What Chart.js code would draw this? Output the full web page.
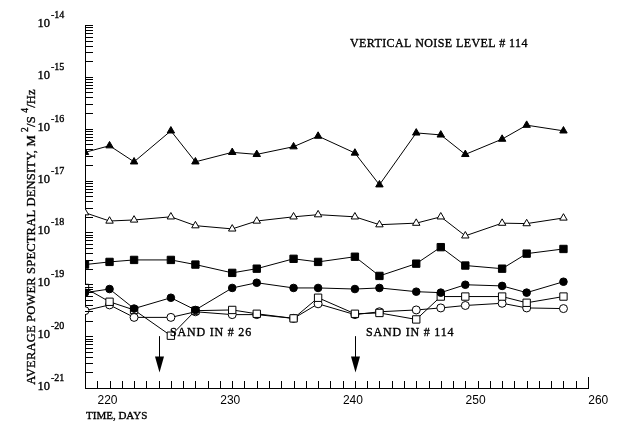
<!DOCTYPE html>
<html>
<head>
<meta charset="utf-8">
<script src="https://cdn.jsdelivr.net/npm/chart.js@4/dist/chart.umd.min.js"></script>
<style>
  html, body { margin: 0; padding: 0; background: #fff; }
  canvas { display: block; }
</style>
</head>
<body>
<canvas id="chart" width="622" height="431"></canvas>
<script>
// Sampling days
const days = [218, 220, 222, 225, 227, 230, 232, 235, 237, 240, 242, 245, 247, 249, 252, 254, 257];

// Average power spectral density per series, M^2/S^4/Hz
const solidTriangle = [3.5e-17, 4.7e-17, 2.3e-17, 9.1e-17, 2.3e-17, 3.5e-17, 3.2e-17, 4.5e-17, 7.2e-17, 3.4e-17, 8.3e-18, 8.3e-17, 7.6e-17, 3.2e-17, 6.3e-17, 1.17e-16, 9.1e-17];
const openTriangle  = [2.4e-18, 1.66e-18, 1.74e-18, 2.0e-18, 1.35e-18, 1.17e-18, 1.66e-18, 2.0e-18, 2.2e-18, 2.0e-18, 1.41e-18, 1.51e-18, 2.0e-18, 8.6e-19, 1.51e-18, 1.48e-18, 1.9e-18];
const solidSquare   = [2.4e-19, 2.7e-19, 2.95e-19, 2.95e-19, 2.4e-19, 1.66e-19, 2.0e-19, 3.1e-19, 2.7e-19, 3.4e-19, 1.45e-19, 2.5e-19, 5.2e-19, 2.3e-19, 2.0e-19, 3.9e-19, 4.8e-19];
const solidCircle   = [6.9e-20, 8.1e-20, 3.4e-20, 5.5e-20, 3.2e-20, 8.5e-20, 1.07e-19, 8.5e-20, 8.5e-20, 8.1e-20, 8.5e-20, 7.2e-20, 6.9e-20, 9.8e-20, 9.3e-20, 6.9e-20, 1.12e-19];
const openSquare    = [8.5e-20, 4.6e-20, 3.2e-20, 1.02e-20, 3.1e-20, 3.2e-20, 2.7e-20, 2.2e-20, 5.5e-20, 2.7e-20, 2.8e-20, 2.1e-20, 5.8e-20, 5.8e-20, 5.8e-20, 4.4e-20, 5.8e-20];
const openCircle    = [3.1e-20, 4.0e-20, 2.3e-20, 2.3e-20, 2.95e-20, 2.6e-20, 2.6e-20, 2.2e-20, 4.2e-20, 2.6e-20, 2.95e-20, 3.2e-20, 3.5e-20, 3.9e-20, 4.3e-20, 3.5e-20, 3.4e-20];

// Axis ticks
const xTickLabels = [220, 230, 240, 250, 260];
const yDecadeExponents = [-21, -20, -19, -18, -17, -16, -15, -14];

// Event markers (day, text) and the arrow extent in PSD units
const sandDays = [224, 240];
const sandLabels = ['SAND IN # 26', 'SAND IN # 114'];
const arrowFrom = 1e-20;
const arrowTo = 2e-21;
const panelTitle = 'VERTICAL NOISE LEVEL # 114';

const SERIF = '"Liberation Serif", "Times New Roman", serif';
const SANS = '"Liberation Sans", Arial, sans-serif';

function series(values, style, radius, filled) {
  return {
    data: days.map((d, i) => ({ x: d, y: values[i] })),
    borderColor: '#000',
    borderWidth: 1,
    pointStyle: style,
    pointRadius: radius,
    pointBorderWidth: 1,
    pointBorderColor: '#000',
    pointBackgroundColor: filled ? '#000' : '#fff',
    tension: 0,
    fill: false
  };
}

// text with a hairline outline so the serif type reads a little heavier
function ink(ctx, t, x, y) {
  ctx.fillText(t, x, y);
  ctx.strokeText(t, x, y);
}

function drawParts(ctx, parts, x, y, baseFont, supFont, rise) {
  let cx = x;
  for (const p of parts) {
    ctx.font = p.sup ? supFont : baseFont;
    ink(ctx, p.t, cx, p.sup ? y - rise : y);
    cx += ctx.measureText(p.t).width;
  }
  return cx - x;
}
function partsWidth(ctx, parts, baseFont, supFont) {
  let w = 0;
  for (const p of parts) {
    ctx.font = p.sup ? supFont : baseFont;
    w += ctx.measureText(p.t).width;
  }
  return w;
}

const decorations = {
  id: 'decorations',
  afterDraw(chart) {
    const { ctx, chartArea: a, scales: { x, y } } = chart;
    ctx.save();
    ctx.strokeStyle = '#000';
    ctx.fillStyle = '#000';
    ctx.lineWidth = 1;

    // inward day ticks along the time axis
    ctx.beginPath();
    for (let d = x.min + 1; d <= x.max; d++) {
      const px = Math.round(x.getPixelForValue(d)) + 0.5;
      const len = d === x.max ? 11 : 7;
      ctx.moveTo(px, a.bottom);
      ctx.lineTo(px, a.bottom - len);
    }
    // inward logarithmic ticks (1..9 per decade)
    for (const e of yDecadeExponents) {
      for (let k = 1; k <= 9; k++) {
        const v = k * Math.pow(10, e);
        if (v > y.max * 1.0001) continue;
        const py = Math.round(y.getPixelForValue(v)) + 0.5;
        ctx.moveTo(a.left, py);
        ctx.lineTo(a.left + 8, py);
      }
    }
    ctx.stroke();

    // sand events: arrow shaft and head
    sandDays.forEach((d) => {
      const px = Math.round(x.getPixelForValue(d)) + 0.5;
      const top = y.getPixelForValue(arrowFrom);
      const tip = y.getPixelForValue(arrowTo);
      ctx.beginPath();
      ctx.moveTo(px, top);
      ctx.lineTo(px, tip - 10);
      ctx.stroke();
      ctx.beginPath();
      ctx.moveTo(px - 4.5, tip - 16);
      ctx.lineTo(px + 4.5, tip - 16);
      ctx.lineTo(px, tip);
      ctx.closePath();
      ctx.fill();
    });

    // time axis labels
    ctx.font = '12px ' + SANS;
    ctx.textAlign = 'center';
    ctx.textBaseline = 'alphabetic';
    for (const t of xTickLabels) {
      ctx.fillText(String(t), x.getPixelForValue(t) - 2, a.bottom + 16);
    }

    ctx.lineWidth = 0.35;
    // decade labels 10^n
    ctx.textAlign = 'left';
    for (const e of yDecadeExponents) {
      const py = y.getPixelForValue(Math.pow(10, e));
      ctx.font = '12.5px ' + SERIF;
      const w10 = ctx.measureText('10').width;
      ink(ctx, '10', 50 - w10, py + 2);
      ctx.font = '10px ' + SERIF;
      ink(ctx, '-' + Math.abs(e), 51, py - 7);
    }

    // axis titles
    ctx.font = '11px ' + SERIF;
    ink(ctx, 'TIME, DAYS', 86, a.bottom + 31);

    const base = '12.5px ' + SERIF, sup = '9.5px ' + SERIF;
    const parts = [
      { t: 'AVERAGE POWER SPECTRAL DENSITY, M ' }, { t: '2', sup: true },
      { t: '/S ' }, { t: '4', sup: true }, { t: '/Hz' }
    ];
    ctx.save();
    ctx.translate(35, 237);
    ctx.rotate(-Math.PI / 2);
    ctx.letterSpacing = '0.2px';
    const tw = partsWidth(ctx, parts, base, sup);
    drawParts(ctx, parts, -tw / 2, 0, base, sup, 7);
    ctx.restore();

    // panel title
    ctx.font = '12px ' + SERIF;
    ctx.letterSpacing = '0.4px';
    ink(ctx, panelTitle, 350, 47);

    // sand event labels
    ctx.letterSpacing = '0.8px';
    sandDays.forEach((d, i) => {
      const px = Math.round(x.getPixelForValue(d)) + 0.5;
      ink(ctx, sandLabels[i], px + 10.5, y.getPixelForValue(arrowFrom));
    });
    ctx.letterSpacing = '0px';
    ctx.restore();
  }
};

new Chart(document.getElementById('chart'), {
  type: 'line',
  data: {
    datasets: [
      series(solidTriangle, 'triangle', 4.3, true),
      series(openTriangle, 'triangle', 4.3, false),
      series(solidSquare, 'rect', 5.2, true),
      series(solidCircle, 'circle', 3.8, true),
      series(openSquare, 'rect', 5.2, false),
      series(openCircle, 'circle', 4, false)
    ]
  },
  options: {
    responsive: false,
    animation: false,
    events: [],
    layout: { padding: { left: 85, top: 25, right: 34, bottom: 43 } },
    plugins: { legend: { display: false }, tooltip: { enabled: false } },
    elements: { point: { hoverRadius: 0 } },
    scales: {
      x: {
        type: 'linear', min: 218, max: 259,
        ticks: { display: false },
        grid: { display: false, drawTicks: false },
        border: { display: true, color: '#000', width: 1 }
      },
      y: {
        type: 'logarithmic', min: 1e-21, max: 1e-14,
        ticks: { display: false },
        grid: { display: false, drawTicks: false },
        border: { display: true, color: '#000', width: 1 }
      }
    }
  },
  plugins: [decorations]
});
</script>
</body>
</html>
